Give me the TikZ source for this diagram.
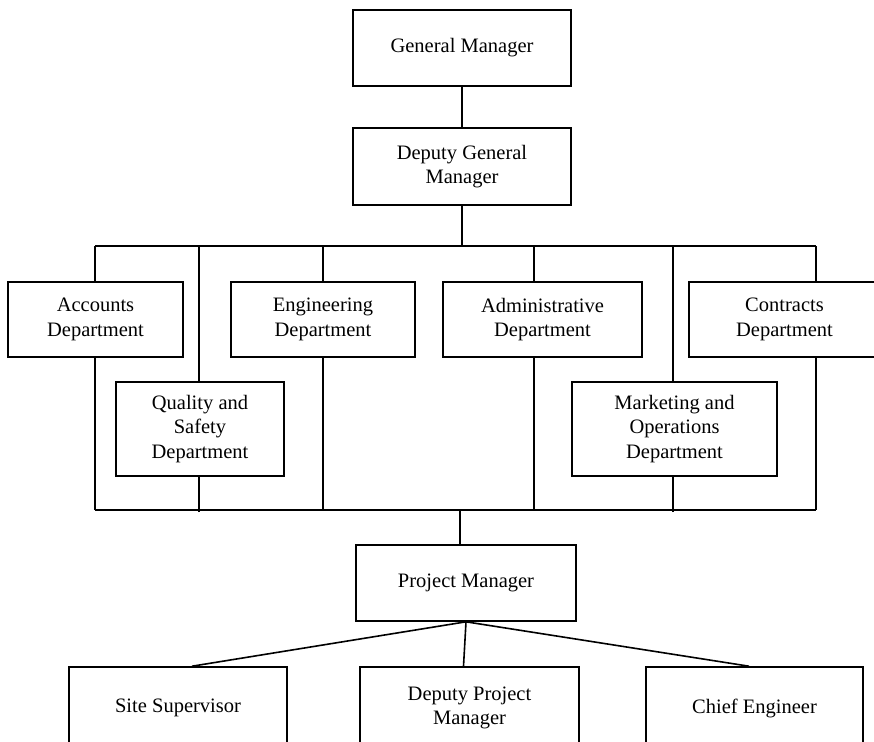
\documentclass[tikz,border=0pt]{standalone}
\usepackage{fontspec}
\setmainfont{Liberation Serif}
\usetikzlibrary{positioning}

\tikzset{
    box/.style={draw, line width=1.6pt, align=center, inner sep=0pt, minimum height=76pt, font=\fontsize{20.5}{24.5}\selectfont},
    link/.style={line width=1.6pt}
}

\begin{document}
\begin{tikzpicture}[x=1pt, y=-1pt]
        \useasboundingbox (0,0) rectangle (874,741);
        \clip (0,0) rectangle (874,741);

        \node[box, minimum width=218pt] (gm) at (462,48) {General Manager};
        \node[box, minimum width=218pt, minimum height=77pt] (dgm) at (462,166.5) {Deputy General\\Manager};

        \node[box, minimum width=175pt, minimum height=75pt] (acc) at (95.5,319.5) {Accounts\\Department};
        \node[box, minimum width=184pt, minimum height=75pt] (eng) at (323,319.5) {Engineering\\Department};
        \node[box, minimum width=199pt, minimum height=75pt] (adm) at (542.5,319.5) {Administrative\\Department};
        \node[box, minimum width=191pt, minimum height=75pt] (con) at (784.5,319.5) {Contracts\\Department};
        \node[box, minimum width=168pt, minimum height=94pt] (qua) at (200,429) {Quality and\\Safety\\Department};
        \node[box, minimum width=205pt, minimum height=94pt] (mkt) at (674.5,429) {Marketing and\\Operations\\Department};

        \node[box, minimum width=220pt] (pm) at (466,583) {Project Manager};
        \node[box, minimum width=218pt, minimum height=82pt] (ss) at (178,708) {Site Supervisor};
        \node[box, minimum width=219pt, minimum height=82pt] (dpm) at (469.5,708) {Deputy Project\\Manager};
        \node[box, minimum width=217pt, minimum height=82pt] (ce) at (754.5,708) {Chief Engineer};

        \coordinate (tl) at (95,246);
        \coordinate (tr) at (816,246);
        \coordinate (bl) at (95,510);
        \coordinate (br) at (816,510);
        \coordinate (t2) at (199,246);
        \coordinate (t3) at (323,246);
        \coordinate (t4) at (534,246);
        \coordinate (t5) at (673,246);
        \coordinate (b2) at (199,512);
        \coordinate (b3) at (323,510);
        \coordinate (b4) at (534,510);
        \coordinate (b5) at (673,512);
        \coordinate (bm) at (460,510);

        \draw[link] (gm) -- (dgm);
        \draw[link] (dgm.south) -- (dgm.south |- tl);
        \draw[link] (tl) -- (tr);
        \draw[link] (bl) -- (br);

        \draw[link] (tl) -- (tl |- acc.north);
        \draw[link] (t2) -- (t2 |- qua.north);
        \draw[link] (t3) -- (t3 |- eng.north);
        \draw[link] (t4) -- (t4 |- adm.north);
        \draw[link] (t5) -- (t5 |- mkt.north);
        \draw[link] (tr) -- (tr |- con.north);

        \draw[link] (bl) -- (bl |- acc.south);
        \draw[link] (b2) -- (b2 |- qua.south);
        \draw[link] (b3) -- (b3 |- eng.south);
        \draw[link] (b4) -- (b4 |- adm.south);
        \draw[link] (b5) -- (b5 |- mkt.south);
        \draw[link] (br) -- (br |- con.south);

        \draw[link] (bm) -- (bm |- pm.north);
        \draw[link] (pm.south) -- ([xshift=14pt]ss.north);
        \draw[link] (pm.south) -- ([xshift=-6pt]dpm.north);
        \draw[link] (pm.south) -- ([xshift=-5.5pt]ce.north);
    \end{tikzpicture}
\end{document}
